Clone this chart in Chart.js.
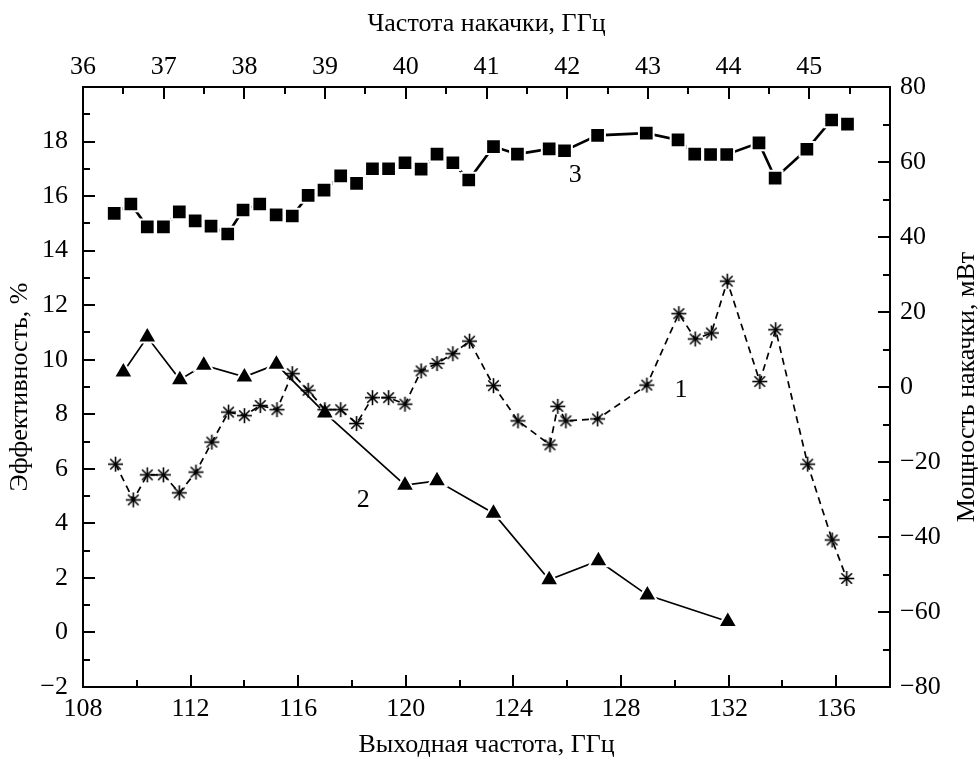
<!DOCTYPE html>
<html>
<head>
<meta charset="utf-8">
<script src="https://cdn.jsdelivr.net/npm/chart.js@4.4.0/dist/chart.umd.min.js"></script>
<style>
  body { margin: 0; background: #fff; }
  #wrap { width: 978px; height: 762px; }
</style>
</head>
<body>
<div id="wrap"><canvas id="chart"></canvas></div>
<script>
// Curve 1 (asterisks, dashed): efficiency, %
const freq1 = [109.21, 109.87, 110.39, 110.99, 111.58, 112.2, 112.79, 113.41, 114.0, 114.59,
  115.21, 115.78, 116.37, 116.99, 117.58, 118.17, 118.76, 119.36, 119.97, 120.57,
  121.16, 121.75, 122.37, 123.26, 124.17, 125.36, 125.65, 125.95, 127.13, 128.96,
  130.15, 130.76, 131.36, 131.95, 133.16, 133.75, 134.94, 135.85, 136.39];
const eff1 = [6.17, 4.86, 5.78, 5.78, 5.12, 5.88, 6.98, 8.08, 7.95, 8.32,
  8.17, 9.49, 8.88, 8.17, 8.17, 7.66, 8.61, 8.61, 8.37, 9.59,
  9.86, 10.22, 10.68, 9.05, 7.76, 6.88, 8.29, 7.76, 7.83, 9.07,
  11.69, 10.76, 10.98, 12.88, 9.2, 11.1, 6.17, 3.39, 1.98];

// Curve 2 (triangles): efficiency, %
const freq2 = [109.5, 110.39, 111.6, 112.49, 114.0, 115.19, 116.99, 119.97, 121.16, 123.26,
  125.33, 127.16, 128.98, 131.97];
const eff2 = [9.55, 10.83, 9.27, 9.8, 9.37, 9.83, 8.05, 5.4, 5.56, 4.37,
  1.93, 2.63, 1.37, 0.4];

// Curve 3 (squares): pump power, mW (right axis)
const freq3 = [109.16, 109.78, 110.39, 110.99, 111.58, 112.17, 112.76, 113.38, 113.95, 114.57,
  115.18, 115.78, 116.37, 116.96, 117.58, 118.17, 118.76, 119.36, 119.97, 120.57,
  121.16, 121.75, 122.34, 123.26, 124.15, 125.33, 125.9, 127.13, 128.94, 130.12,
  130.74, 131.33, 131.93, 133.13, 133.73, 134.91, 135.83, 136.42];
const power3 = [46.3, 48.8, 42.7, 42.7, 46.7, 44.3, 42.9, 40.8, 47.2, 48.8,
  45.9, 45.6, 51.1, 52.5, 56.3, 54.3, 58.2, 58.2, 59.8, 58.1,
  62.1, 59.8, 55.2, 64.1, 62.1, 63.5, 63.0, 67.1, 67.7, 65.9,
  62.1, 62.0, 62.0, 65.1, 55.7, 63.4, 71.2, 70.1];

// curve number labels
const curveLabels = ['1', '2', '3'];
const curveLabelX = [130.23, 118.42, 126.3];
const curveLabelY = [8.88, 4.86, 56.5];
const curveLabelAxis = ['y', 'y', 'y2'];

// tick labels
const outTicks = [108, 112, 116, 120, 124, 128, 132, 136];
const pumpTicks = [36, 37, 38, 39, 40, 41, 42, 43, 44, 45];
const effTicks = [-2, 0, 2, 4, 6, 8, 10, 12, 14, 16, 18];
const powerTicks = [-80, -60, -40, -20, 0, 20, 40, 60, 80];

const FONT = 'Liberation Serif';

function minus(v) {
  return String(v).replace('-', '\u2212');
}

function setTicks(list) {
  return (scale) => { scale.ticks = list.map(v => ({ value: v })); };
}

// inward major/minor ticks, curve numbers and right title
const decorations = {
  id: 'decorations',
  afterDatasetsDraw(chart) {
    const ctx = chart.ctx;
    const a = chart.chartArea;
    const s = chart.scales;
    ctx.save();
    ctx.strokeStyle = '#000';
    ctx.lineWidth = 2;

    const tickSet = (scale, list, side) => {
      const step = list[1] - list[0];
      const vals = [];
      for (let v = scale.min; v <= scale.max + 1e-9; v += step / 2) vals.push(v);
      vals.forEach(v => {
        const major = Math.abs(((v - list[0]) / step) % 1) < 1e-6;
        const len = major ? 12 : 7;
        const p = Math.round(scale.getPixelForValue(v));
        ctx.beginPath();
        if (side === 'bottom') { ctx.moveTo(p, a.bottom); ctx.lineTo(p, a.bottom - len); }
        if (side === 'top') { ctx.moveTo(p, a.top); ctx.lineTo(p, a.top + len); }
        if (side === 'left') { ctx.moveTo(a.left, p); ctx.lineTo(a.left + len, p); }
        if (side === 'right') { ctx.moveTo(a.right, p); ctx.lineTo(a.right - len, p); }
        ctx.stroke();
      });
    };
    tickSet(s.x, outTicks, 'bottom');
    tickSet(s.x2, pumpTicks, 'top');
    tickSet(s.y, effTicks, 'left');
    tickSet(s.y2, powerTicks, 'right');

    ctx.fillStyle = '#000';
    ctx.font = '26px "' + FONT + '"';
    ctx.textAlign = 'center';
    ctx.textBaseline = 'middle';
    curveLabels.forEach((t, i) => {
      ctx.fillText(t, s.x.getPixelForValue(curveLabelX[i]), s[curveLabelAxis[i]].getPixelForValue(curveLabelY[i]));
    });

    ctx.translate(967, (a.top + a.bottom) / 2);
    ctx.rotate(-Math.PI / 2);
    ctx.fillText('Мощность накачки, мВт', 0, 0);
    ctx.restore();
  }
};

// asterisk marker
function asterisk() {
  const c = document.createElement('canvas');
  c.width = 19; c.height = 19;
  const g = c.getContext('2d');
  g.strokeStyle = '#000';
  g.lineWidth = 1.6;
  const r = 7.5;
  for (let k = 0; k < 4; k++) {
    const ang = k * Math.PI / 4;
    g.beginPath();
    g.moveTo(9.5 + r * Math.cos(ang), 9.5 + r * Math.sin(ang));
    g.lineTo(9.5 - r * Math.cos(ang), 9.5 - r * Math.sin(ang));
    g.stroke();
  }
  return c;
}

const tickFont = { family: FONT, size: 26 };
const titleFont = { family: FONT, size: 26 };
const border = { display: true, color: '#000', width: 2 };

new Chart(document.getElementById('chart'), {
  type: 'line',
  data: {
    datasets: [
      {
        label: '1',
        data: freq1.map((f, i) => ({ x: f, y: eff1[i] })),
        yAxisID: 'y',
        borderColor: '#000',
        borderWidth: 1.7,
        borderDash: [7, 5],
        pointStyle: asterisk(),
        pointRadius: 8,
        tension: 0,
      },
      {
        label: '2',
        data: freq2.map((f, i) => ({ x: f, y: eff2[i] })),
        yAxisID: 'y',
        borderColor: '#000',
        borderWidth: 1.7,
        pointStyle: 'triangle',
        pointRadius: 11,
        pointBackgroundColor: '#000',
        pointBorderColor: '#fff',
        pointBorderWidth: 2,
        tension: 0,
      },
      {
        label: '3',
        data: freq3.map((f, i) => ({ x: f, y: power3[i] })),
        yAxisID: 'y2',
        borderColor: '#000',
        borderWidth: 2.6,
        pointStyle: 'rect',
        pointRadius: 10.4,
        pointBackgroundColor: '#000',
        pointBorderColor: '#fff',
        pointBorderWidth: 2,
        tension: 0,
      },
    ],
  },
  options: {
    responsive: true,
    maintainAspectRatio: false,
    animation: false,
    layout: { padding: 0 },
    plugins: { legend: { display: false }, tooltip: { enabled: false } },
    scales: {
      x: {
        type: 'linear', position: 'bottom', min: 108, max: 138,
        afterBuildTicks: setTicks(outTicks),
        afterFit: (sc) => { sc.height = 75; },
        grid: { display: false, drawTicks: false },
        border,
        ticks: { color: '#000', font: tickFont, padding: 7, maxRotation: 0, callback: v => minus(v) },
        title: { display: true, text: 'Выходная частота, ГГц', color: '#000', font: titleFont, padding: { top: 0, bottom: 1 } },
      },
      x2: {
        type: 'linear', position: 'top', min: 36, max: 46,
        afterBuildTicks: setTicks(pumpTicks),
        afterFit: (sc) => { sc.height = 87; },
        grid: { display: false, drawTicks: false },
        border,
        ticks: { color: '#000', font: tickFont, padding: 4, maxRotation: 0, callback: v => minus(v) },
        title: { display: true, text: 'Частота накачки, ГГц', color: '#000', font: titleFont, padding: { top: 9, bottom: 0 } },
      },
      y: {
        type: 'linear', position: 'left', min: -2, max: 20,
        afterBuildTicks: setTicks(effTicks),
        afterFit: (sc) => { sc.width = 83; },
        grid: { display: false, drawTicks: false },
        border,
        ticks: { color: '#000', font: tickFont, padding: 15, callback: v => minus(v) },
        title: { display: true, text: 'Эффективность, %', color: '#000', font: titleFont, padding: { top: 5, bottom: 0 } },
      },
      y2: {
        type: 'linear', position: 'right', min: -80, max: 80,
        afterBuildTicks: setTicks(powerTicks),
        afterFit: (sc) => { sc.width = 88; },
        grid: { display: false, drawTicks: false },
        border,
        ticks: { color: '#000', font: tickFont, padding: 10, callback: v => minus(v) },
      },
    },
  },
  plugins: [decorations],
});
</script>
</body>
</html>
